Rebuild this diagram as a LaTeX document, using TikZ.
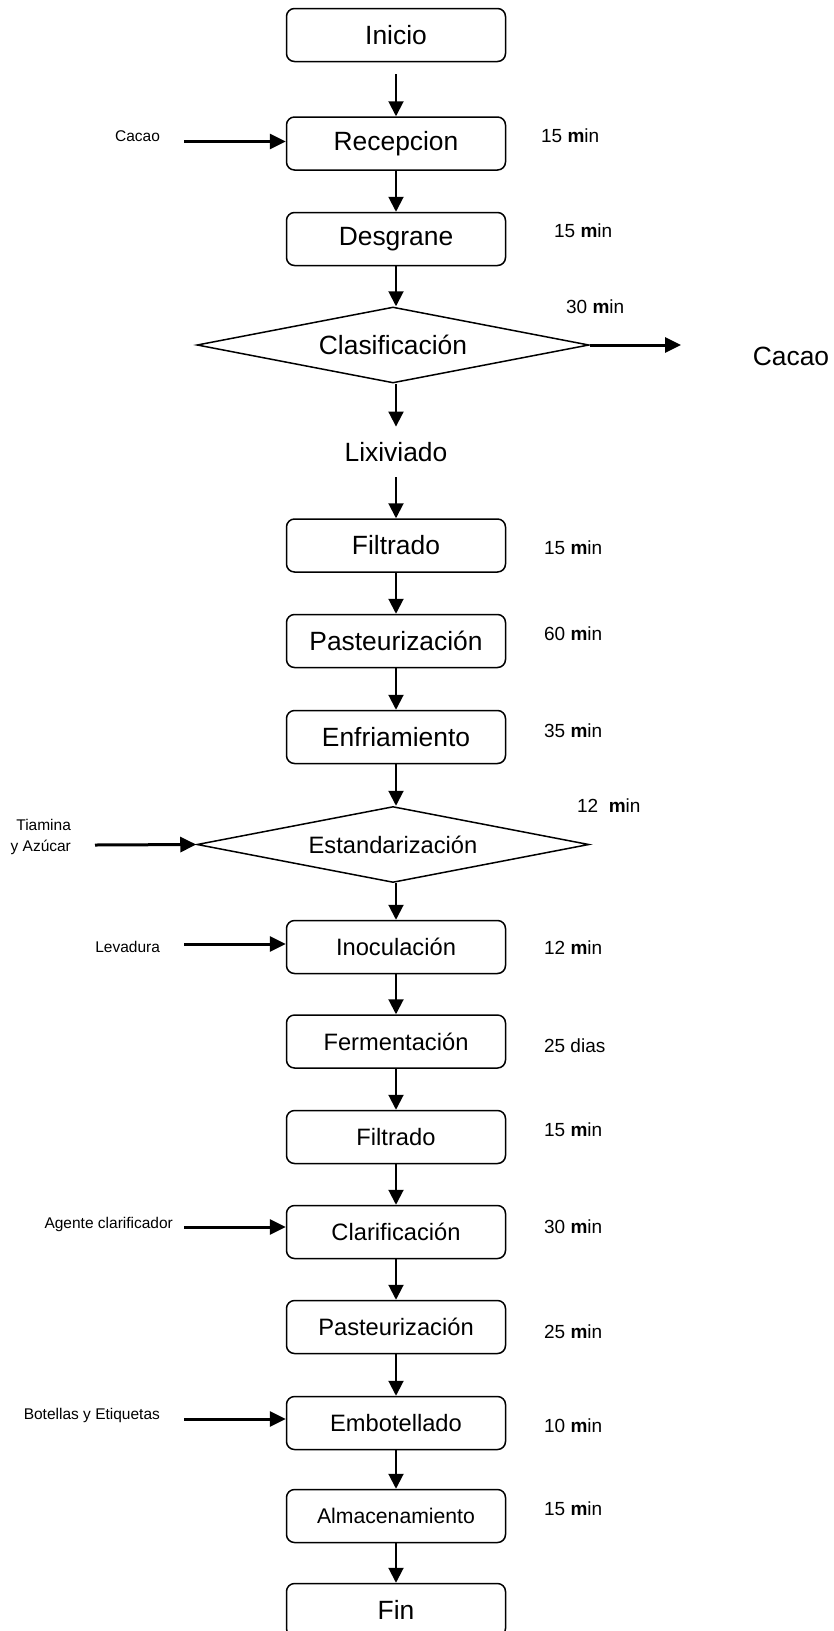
\documentclass[tikz,border=0pt]{standalone}
\usepackage{fontspec}
\setmainfont{Liberation Sans}
\usetikzlibrary{arrows.meta,shapes}

\begin{document}
\begin{tikzpicture}[x=1pt, y=-1pt, line width=1.5pt,
		caja/.style={draw, rounded corners=8pt, minimum width=219pt, minimum height=53pt, font=\fontsize{26.4}{30}\selectfont},
		mediana/.style={font=\fontsize{23.7}{28}\selectfont},
		decision/.style={draw, diamond, aspect=5, inner sep=0pt, minimum width=392pt, minimum height=76pt, font=\fontsize{26.4}{30}\selectfont},
		tiempo/.style={anchor=west, font=\fontsize{19}{22}\selectfont},
		entrada/.style={anchor=east, font=\fontsize{15.5}{18}\selectfont},
		flecha/.style={line width=2pt, -{Triangle[length=15pt,width=15pt]}},
		flechagruesa/.style={line width=3pt, -{Triangle[length=16pt,width=15pt]}}]
		\useasboundingbox (0,0) rectangle (833,1631);
		\fill[white] (0,0) rectangle (833,1631);
		% etapas
		\node[caja] (inicio) at (396,35) {Inicio};
		\node[caja] (recepcion) at (396,143.5) {Recepcion};
		\node[caja] (desgrane) at (396,239) {Desgrane};
		\node[decision] (clasificacion) at (393,345) {Clasificación};
		\node[font=\fontsize{26.4}{30}\selectfont, inner sep=15pt] (lixiviado) at (396,452) {Lixiviado};
		\node[caja] (filtrado) at (396,545.5) {Filtrado};
		\node[caja] (pasteurizacion) at (396,641) {Pasteurización};
		\node[caja] (enfriamiento) at (396,737) {Enfriamiento};
		\node[decision, mediana] (estandarizacion) at (393,844.5) {Estandarización};
		\node[caja, mediana] (inoculacion) at (396,947) {Inoculación};
		\node[caja, mediana] (fermentacion) at (396,1041.5) {Fermentación};
		\node[caja, mediana] (filtradob) at (396,1137) {Filtrado};
		\node[caja, mediana] (clarificacion) at (396,1232) {Clarificación};
		\node[caja, mediana] (pasteurizacionb) at (396,1327) {Pasteurización};
		\node[caja, mediana] (embotellado) at (396,1423) {Embotellado};
		\node[caja, font=\fontsize{21.2}{25}\selectfont] (almacenamiento) at (396,1516) {Almacenamiento};
		\node[caja] (fin) at (396,1610) {Fin};
		% flujo principal
		\coordinate (salidainicio) at (396,74);
		\draw[flecha] (salidainicio) -- (recepcion);
		\draw[flecha] (recepcion) -- (desgrane);
		\draw[flecha] (desgrane) -- (desgrane |- clasificacion.north);
		\draw[flecha] (clasificacion.south -| lixiviado) -- (lixiviado);
		\draw[flecha] (lixiviado) -- (filtrado);
		\draw[flecha] (filtrado) -- (pasteurizacion);
		\draw[flecha] (pasteurizacion) -- (enfriamiento);
		\draw[flecha] (enfriamiento) -- (enfriamiento |- estandarizacion.north);
		\draw[flecha] (estandarizacion.south -| inoculacion) -- (inoculacion);
		\draw[flecha] (inoculacion) -- (fermentacion);
		\draw[flecha] (fermentacion) -- (filtradob);
		\draw[flecha] (filtradob) -- (clarificacion);
		\draw[flecha] (clarificacion) -- (pasteurizacionb);
		\draw[flecha] (pasteurizacionb) -- (embotellado);
		\draw[flecha] (embotellado) -- (almacenamiento);
		\draw[flecha] (almacenamiento) -- (fin);
		% salida
		\coordinate (salidacacao) at (681,345);
		\draw[flechagruesa] (clasificacion.east) -- (salidacacao);
		\node[font=\fontsize{26.4}{30}\selectfont] (cacaofuera) at (791,356) {Cacao};
		% entradas
		\node[entrada] (cacao) at (164,136) {Cacao};
		\coordinate (c1) at (184,141.5);
		\draw[flechagruesa] (c1) -- (c1 -| recepcion.west);
		\node[entrada, align=right, font=\fontsize{15.5}{21}\selectfont] (tiamina) at (75,837) {Tiamina\\y Azúcar};
		\coordinate (c2) at (95,845);
		\draw[flechagruesa] (c2) -- (estandarizacion.west);
		\node[entrada] (levadura) at (164,946.5) {Levadura};
		\coordinate (c3) at (184,944);
		\draw[flechagruesa] (c3) -- (c3 -| inoculacion.west);
		\node[entrada] (agente) at (177,1224) {Agente clarificador};
		\coordinate (c4) at (184,1227);
		\draw[flechagruesa] (c4) -- (c4 -| clarificacion.west);
		\node[entrada] (botellas) at (164,1415) {Botellas y Etiquetas};
		\coordinate (c5) at (184,1419);
		\draw[flechagruesa] (c5) -- (c5 -| embotellado.west);
		% tiempos
		\node[tiempo] (t1) at (537,136) {15 \textbf{m}in};
		\node[tiempo] (t2) at (550,231) {15 \textbf{m}in};
		\node[tiempo] (t3) at (562,307) {30 \textbf{m}in};
		\node[tiempo] (t4) at (540,548) {15 \textbf{m}in};
		\node[tiempo] (t5) at (540,634) {60 \textbf{m}in};
		\node[tiempo] (t6) at (540,731) {35 \textbf{m}in};
		\node[tiempo] (t7) at (573,806) {12\ \ \textbf{m}in};
		\node[tiempo] (t8) at (540,948) {12 \textbf{m}in};
		\node[tiempo] (t9) at (540,1046) {25 dias};
		\node[tiempo] (t10) at (540,1130) {15 \textbf{m}in};
		\node[tiempo] (t11) at (540,1227) {30 \textbf{m}in};
		\node[tiempo] (t12) at (540,1332) {25 \textbf{m}in};
		\node[tiempo] (t13) at (540,1426) {10 \textbf{m}in};
		\node[tiempo] (t14) at (540,1509) {15 \textbf{m}in};
	\end{tikzpicture}
\end{document}
